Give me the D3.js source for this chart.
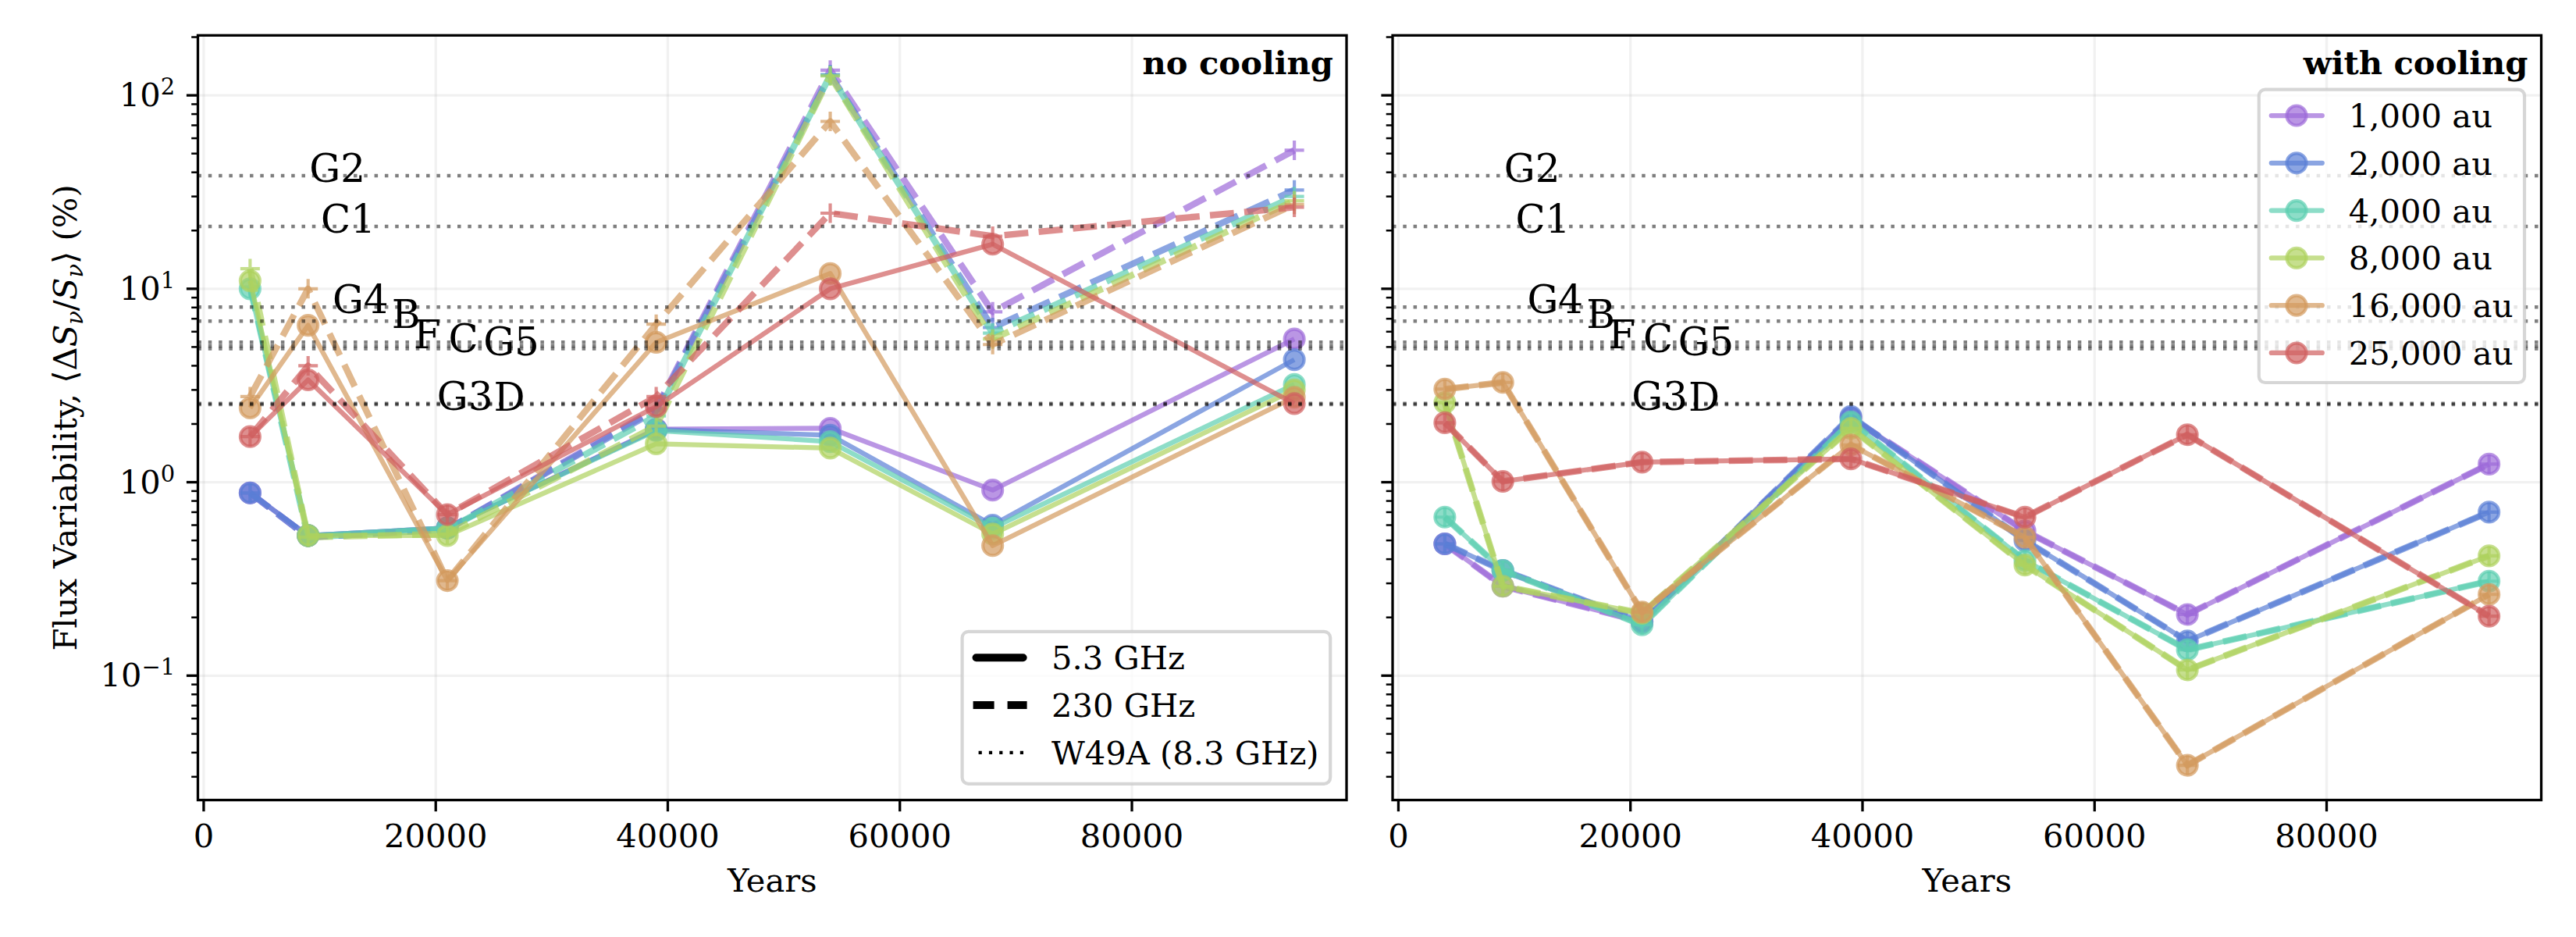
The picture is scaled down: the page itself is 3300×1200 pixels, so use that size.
<!DOCTYPE html>
<html>
<head>
<meta charset="utf-8">
<script src="https://cdn.jsdelivr.net/npm/d3@7"></script>
<style>
body { margin: 0; background: #fff; }
svg { font-family: "DejaVu Serif", serif; }
</style>
</head>
<body>
<div id="chart"></div>
<script>
// Data
var years = [4000, 9000, 21000, 39000, 54000, 68000, 94000];
var resolutions = ["1,000 au", "2,000 au", "4,000 au", "8,000 au", "16,000 au", "25,000 au"];

// no cooling, 5.3 GHz (solid)
var noCool53 = [
    [0.88, 0.53, 0.58, 1.88, 1.90, 0.91, 5.5],
    [0.88, 0.53, 0.58, 1.87, 1.75, 0.60, 4.3],
    [10.0, 0.53, 0.58, 1.85, 1.62, 0.58, 3.2],
    [11.0, 0.53, 0.53, 1.58, 1.50, 0.54, 3.0],
    [2.42, 6.47, 0.31, 5.29, 12.0, 0.47, 2.75],
    [1.72, 3.38, 0.68, 2.46, 10.0, 17.0, 2.55]
];
// no cooling, 230 GHz (dashed)
var noCool230 = [
    [0.88, 0.52, 0.57, 2.40, 135, 7.6, 52],
    [0.88, 0.52, 0.57, 2.35, 128, 6.3, 32.4],
    [10.2, 0.52, 0.57, 2.20, 127, 5.9, 30.0],
    [12.7, 0.52, 0.54, 1.95, 126, 5.5, 28.5],
    [2.77, 10.0, 0.31, 6.56, 73.3, 5.15, 27.3],
    [1.72, 4.0, 0.68, 2.77, 24.6, 18.7, 26.4]
];
// with cooling, 5.3 GHz (solid)
var cool53 = [
    [0.48, 0.29, 0.19, 2.15, 0.56, 0.207, 1.24],
    [0.48, 0.35, 0.19, 2.19, 0.50, 0.151, 0.70],
    [0.66, 0.35, 0.183, 2.05, 0.394, 0.136, 0.308],
    [2.58, 0.29, 0.21, 1.90, 0.373, 0.107, 0.416],
    [3.03, 3.28, 0.213, 1.56, 0.519, 0.0344, 0.263],
    [2.03, 1.01, 1.27, 1.32, 0.659, 1.76, 0.203]
];
// with cooling, 230 GHz (dashed)
var cool230 = [
    [0.48, 0.29, 0.19, 2.15, 0.56, 0.207, 1.24],
    [0.48, 0.35, 0.19, 2.19, 0.50, 0.151, 0.70],
    [0.66, 0.35, 0.183, 2.05, 0.394, 0.136, 0.308],
    [2.58, 0.29, 0.21, 1.90, 0.373, 0.107, 0.416],
    [3.03, 3.28, 0.213, 1.56, 0.519, 0.0344, 0.263],
    [2.03, 1.01, 1.27, 1.32, 0.659, 1.76, 0.203]
];

// W49A sources (8.3 GHz)
var w49aNames = ["G2", "C1", "G4", "B", "F", "C", "G5", "G3", "D"];
var w49aValues = [38.4, 21.0, 8.05, 6.8, 5.30, 5.06, 4.90, 2.55, 2.52];
var w49aLabelYears = [9100, 10100, 11100, 16200, 18100, 21100, 24100, 20100, 25000];

var xTicks = [0, 20000, 40000, 60000, 80000];
var yTicks = [0.1, 1, 10, 100];

var colors = ["#9c6ad8", "#5a7fd6", "#5ccfb0", "#aed15e", "#d39a5e", "#d05f5f"];

// Setup SVG
var svgWidth = 3300;
var svgHeight = 1200;
var plotTop = 45.3;
var plotBottom = 1024.6;
var plotWidth = 1471.5;
var panels = [
    { left: 253.5, title: "no cooling", solid: noCool53, dashed: noCool230 },
    { left: 1784, title: "with cooling", solid: cool53, dashed: cool230 }
];

var svg = d3.select("#chart")
    .append("svg")
    .attr("width", svgWidth)
    .attr("height", svgHeight);

// Scales: matplotlib-like 5% margins (log space for y)
var allValues = d3.merge([].concat(noCool53, noCool230, cool53, cool230));
var logMin = Math.log10(d3.min(allValues));
var logMax = Math.log10(d3.max(allValues));
var logPad = 0.05 * (logMax - logMin);
var yScale = d3.scaleLog()
    .domain([Math.pow(10, logMin - logPad), Math.pow(10, logMax + logPad)])
    .range([plotBottom, plotTop]);

var xPad = 0.05 * (d3.max(years) - d3.min(years));
var xScale = d3.scaleLinear()
    .domain([d3.min(years) - xPad, d3.max(years) + xPad])
    .range([0, plotWidth]);

var yDomain = yScale.domain();
var minorTicks = [];
for (var e = -3; e <= 3; e++) {
    for (var m = 2; m <= 9; m++) {
        var v = m * Math.pow(10, e);
        if (v >= yDomain[0] && v <= yDomain[1]) minorTicks.push(v);
    }
}

var lineGen = d3.line()
    .x(function(d, i) { return xScale(years[i]); })
    .y(function(d) { return yScale(d); });

panels.forEach(function(panel, p) {
    var g = svg.append("g").attr("transform", "translate(" + panel.left + ",0)");

    // grid
    g.append("g").selectAll("line")
        .data(yTicks)
        .enter()
        .append("line")
        .attr("x1", 0).attr("x2", plotWidth)
        .attr("y1", d => yScale(d)).attr("y2", d => yScale(d))
        .attr("stroke", "#b0b0b0").attr("stroke-opacity", 0.18).attr("stroke-width", 3.3);
    g.append("g").selectAll("line")
        .data(xTicks)
        .enter()
        .append("line")
        .attr("x1", d => xScale(d)).attr("x2", d => xScale(d))
        .attr("y1", plotTop).attr("y2", plotBottom)
        .attr("stroke", "#b0b0b0").attr("stroke-opacity", 0.18).attr("stroke-width", 3.3);

    // series
    resolutions.forEach(function(res, i) {
        var c = colors[i];
        g.append("path")
            .attr("d", lineGen(panel.solid[i]))
            .attr("fill", "none")
            .attr("stroke", c).attr("stroke-opacity", 0.7)
            .attr("stroke-width", 6.25)
            .attr("stroke-linejoin", "round");
        g.append("g").selectAll("circle")
            .data(panel.solid[i])
            .enter()
            .append("circle")
            .attr("cx", (d, j) => xScale(years[j]))
            .attr("cy", d => yScale(d))
            .attr("r", 12.5)
            .attr("fill", c).attr("fill-opacity", 0.7)
            .attr("stroke", c).attr("stroke-opacity", 0.7)
            .attr("stroke-width", 4.17);
        g.append("path")
            .attr("d", lineGen(panel.dashed[i]))
            .attr("fill", "none")
            .attr("stroke", c).attr("stroke-opacity", 0.7)
            .attr("stroke-width", 8.33)
            .attr("stroke-dasharray", "30.8,13.3")
            .attr("stroke-linejoin", "round");
        g.append("g").selectAll("path")
            .data(panel.dashed[i])
            .enter()
            .append("path")
            .attr("d", (d, j) => {
                var x = xScale(years[j]), y = yScale(d);
                return "M" + (x - 12.5) + "," + y + "h25M" + x + "," + (y - 12.5) + "v25";
            })
            .attr("stroke", c).attr("stroke-opacity", 0.7)
            .attr("stroke-width", 4.17);
    });

    // W49A lines and labels
    g.append("g").selectAll("line")
        .data(w49aValues)
        .enter()
        .append("line")
        .attr("x1", 0).attr("x2", plotWidth)
        .attr("y1", d => yScale(d)).attr("y2", d => yScale(d))
        .attr("stroke", "#000").attr("stroke-opacity", 0.5)
        .attr("stroke-width", 4.5)
        .attr("stroke-dasharray", "4.5,8.8");
    g.append("g").selectAll("text")
        .data(w49aNames)
        .enter()
        .append("text")
        .attr("x", (d, k) => xScale(w49aLabelYears[k]))
        .attr("y", (d, k) => yScale(w49aValues[k]) + 8.3)
        .attr("font-size", 50)
        .text(d => d);

    // spines
    g.append("rect")
        .attr("x", 0).attr("y", plotTop)
        .attr("width", plotWidth).attr("height", plotBottom - plotTop)
        .attr("fill", "none").attr("stroke", "#000").attr("stroke-width", 3.3);

    // y ticks
    g.append("g").selectAll("line")
        .data(yTicks.filter(d => d >= yDomain[0] && d <= yDomain[1]))
        .enter()
        .append("line")
        .attr("x1", -14.6).attr("x2", 0)
        .attr("y1", d => yScale(d)).attr("y2", d => yScale(d))
        .attr("stroke", "#000").attr("stroke-width", 3.3);
    g.append("g").selectAll("line")
        .data(minorTicks)
        .enter()
        .append("line")
        .attr("x1", -8.3).attr("x2", 0)
        .attr("y1", d => yScale(d)).attr("y2", d => yScale(d))
        .attr("stroke", "#000").attr("stroke-width", 2.5);

    if (p === 0) {
        var yLab = g.append("g").selectAll("text")
            .data(yTicks.filter(d => d >= yDomain[0] && d <= yDomain[1]))
            .enter()
            .append("text")
            .attr("x", -29.2)
            .attr("y", d => yScale(d) + 14)
            .attr("text-anchor", "end")
            .attr("font-size", 41.67);
        yLab.append("tspan").text("10");
        yLab.append("tspan")
            .attr("dy", -15)
            .attr("font-size", 29)
            .text(d => String(Math.round(Math.log10(d))).replace("-", "\u2212"));
    }

    // x ticks
    g.append("g").selectAll("line")
        .data(xTicks)
        .enter()
        .append("line")
        .attr("x1", d => xScale(d)).attr("x2", d => xScale(d))
        .attr("y1", plotBottom).attr("y2", plotBottom + 14.6)
        .attr("stroke", "#000").attr("stroke-width", 3.3);
    g.append("g").selectAll("text")
        .data(xTicks)
        .enter()
        .append("text")
        .attr("x", d => xScale(d))
        .attr("y", 1084.7)
        .attr("text-anchor", "middle")
        .attr("font-size", 41.67)
        .text(d => d);

    g.append("text")
        .attr("x", plotWidth / 2)
        .attr("y", 1142)
        .attr("text-anchor", "middle")
        .attr("font-size", 41.67)
        .text("Years");

    g.append("text")
        .attr("x", plotWidth - 17)
        .attr("y", plotTop + 50)
        .attr("text-anchor", "end")
        .attr("font-size", 41.67)
        .attr("font-weight", "bold")
        .text(panel.title);

    // legends
    if (p === 0) {
        var lw = 471.6, lh = 195;
        var lx = plotWidth - 20.8 - lw, ly = plotBottom - 20.8 - lh;
        var leg = g.append("g").attr("transform", "translate(" + lx + "," + ly + ")");
        leg.append("rect")
            .attr("width", lw).attr("height", lh).attr("rx", 8)
            .attr("fill", "#fff").attr("fill-opacity", 0.8)
            .attr("stroke", "#ccc").attr("stroke-opacity", 0.8).attr("stroke-width", 4.17);
        var styles = [
            { label: "5.3 GHz", width: 10, dash: null, cap: "round", x1: 18, x2: 78 },
            { label: "230 GHz", width: 10, dash: "27,17", cap: "butt", x1: 14, x2: 83 },
            { label: "W49A (8.3 GHz)", width: 4.2, dash: "4.2,9.1", cap: "butt", x1: 21, x2: 83 }
        ];
        styles.forEach(function(s, k) {
            var cy = 33.4 + k * 60.8;
            leg.append("line")
                .attr("x1", s.x1).attr("x2", s.x2)
                .attr("y1", cy).attr("y2", cy)
                .attr("stroke", "#000").attr("stroke-width", s.width)
                .attr("stroke-linecap", s.cap)
                .attr("stroke-dasharray", s.dash);
            leg.append("text")
                .attr("x", 114.3).attr("y", cy + 15)
                .attr("font-size", 41.67)
                .text(s.label);
        });
    } else {
        var lw2 = 340.2, lh2 = 375.3;
        var lx2 = plotWidth - 21.5 - lw2, ly2 = plotTop + 69.4;
        var leg2 = g.append("g").attr("transform", "translate(" + lx2 + "," + ly2 + ")");
        leg2.append("rect")
            .attr("width", lw2).attr("height", lh2).attr("rx", 8)
            .attr("fill", "#fff").attr("fill-opacity", 0.8)
            .attr("stroke", "#ccc").attr("stroke-opacity", 0.8).attr("stroke-width", 4.17);
        resolutions.forEach(function(res, k) {
            var cy = 33.3 + k * 60.8;
            leg2.append("line")
                .attr("x1", 16).attr("x2", 81)
                .attr("y1", cy).attr("y2", cy)
                .attr("stroke", colors[k]).attr("stroke-opacity", 0.7)
                .attr("stroke-width", 6.25).attr("stroke-linecap", "round");
            leg2.append("circle")
                .attr("cx", 48.2).attr("cy", cy).attr("r", 12.5)
                .attr("fill", colors[k]).attr("fill-opacity", 0.7)
                .attr("stroke", colors[k]).attr("stroke-opacity", 0.7)
                .attr("stroke-width", 4.17);
            leg2.append("text")
                .attr("x", 115).attr("y", cy + 15)
                .attr("font-size", 41.67)
                .text(res);
        });
    }
});

// y axis label
var yLabel = svg.append("text")
    .attr("transform", "translate(98," + ((plotTop + plotBottom) / 2) + ") rotate(-90)")
    .attr("text-anchor", "middle")
    .attr("font-size", 41.67);
yLabel.append("tspan").text("Flux Variability, \u27E8\u0394");
yLabel.append("tspan").attr("font-style", "italic").text("S");
yLabel.append("tspan").attr("font-style", "italic").attr("font-size", 29).attr("dy", 8).text("\u03BD");
yLabel.append("tspan").attr("dy", -8).text("/");
yLabel.append("tspan").attr("font-style", "italic").text("S");
yLabel.append("tspan").attr("font-style", "italic").attr("font-size", 29).attr("dy", 8).text("\u03BD");
yLabel.append("tspan").attr("dy", -8).text("\u27E9 (%)");
</script>
</body>
</html>
